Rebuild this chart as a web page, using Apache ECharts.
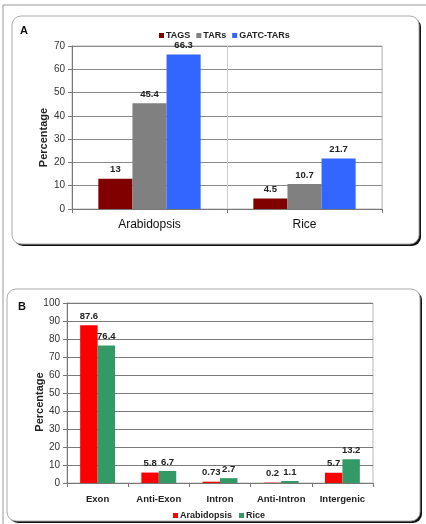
<!DOCTYPE html>
<html>
<head>
<meta charset="utf-8">
<script src="https://cdn.jsdelivr.net/npm/echarts@6/dist/echarts.min.js"></script>
<style>
  html, body { margin: 0; padding: 0; background: #fff; }
  #chart { width: 426px; height: 524px; }
</style>
</head>
<body>
<div id="chart"></div>
<script>
// panel A
const catA = ['Arabidopsis', 'Rice']
const tagsVals = [13, 4.5]
const tarsVals = [45.4, 10.7]
const gatcVals = [66.3, 21.7]
const ticksA = [0, 10, 20, 30, 40, 50, 60, 70]

// panel B
const catB = ['Exon', 'Anti-Exon', 'Intron', 'Anti-Intron', 'Intergenic']
const arabVals = [87.6, 5.8, 0.73, 0.2, 5.7]
const riceVals = [76.4, 6.7, 2.7, 1.1, 13.2]
const ticksB = [0, 10, 20, 30, 40, 50, 60, 70, 80, 90, 100]

const FONT = '"Liberation Sans", Arial, sans-serif'

var chart = echarts.init(document.getElementById('chart'), null, { renderer: 'canvas' })

function barLabel() {
  return {
    show: true,
    position: 'top',
    distance: 4,
    fontFamily: FONT,
    fontSize: 9.5,
    fontWeight: 'bold',
    color: '#222'
  }
}

chart.setOption({
  animation: false,
  textStyle: { fontFamily: FONT },
  graphic: [
    // outer frame (top + left)
    { type: 'line', shape: { x1: 3, y1: 5, x2: 426, y2: 5 }, style: { stroke: '#999', lineWidth: 1 }, z: -10 },
    { type: 'line', shape: { x1: 3, y1: 5, x2: 3, y2: 524 }, style: { stroke: '#999', lineWidth: 1 }, z: -10 },
    // panel A box (dark edge then white face)
    { type: 'rect', shape: { x: 14, y: 18, width: 407, height: 228, r: 9 }, style: { fill: '#111' }, z: -9 },
    { type: 'rect', shape: { x: 12, y: 16, width: 407, height: 228, r: 9 }, style: { fill: '#fff', stroke: '#aaa', lineWidth: 1 }, z: -8 },
    // panel B box
    { type: 'rect', shape: { x: 9, y: 291, width: 413, height: 232, r: 9 }, style: { fill: '#111' }, z: -9 },
    { type: 'rect', shape: { x: 7, y: 289, width: 413, height: 232, r: 9 }, style: { fill: '#fff', stroke: '#aaa', lineWidth: 1 }, z: -8 },
    { type: 'text', left: 20, top: 25, style: { text: 'A', font: 'bold 11px ' + FONT, fill: '#111' } },
    { type: 'text', left: 18, top: 301, style: { text: 'B', font: 'bold 11px ' + FONT, fill: '#111' } }
  ],
  legend: [
    {
      data: ['TAGS', 'TARs', 'GATC-TARs'],
      left: 154,
      top: 26,
      icon: 'rect',
      itemWidth: 5,
      itemHeight: 5,
      itemGap: 6,
      textStyle: { fontFamily: FONT, fontSize: 9, fontWeight: 'bold', color: '#222', padding: [0, 0, 0, -3] }
    },
    {
      data: ['Arabidopsis', 'Rice'],
      left: 168,
      top: 506,
      icon: 'rect',
      itemWidth: 5,
      itemHeight: 5,
      itemGap: 7,
      textStyle: { fontFamily: FONT, fontSize: 9, fontWeight: 'bold', color: '#222', padding: [0, 0, 0, -3] }
    }
  ],
  grid: [
    { left: 72, top: 46, width: 310, height: 163, show: true, borderColor: '#bbb', borderWidth: 1 },
    { left: 67, top: 303, width: 306, height: 180, show: true, borderColor: '#bbb', borderWidth: 1 }
  ],
  xAxis: [
    {
      gridIndex: 0,
      type: 'category',
      data: catA,
      axisLine: { lineStyle: { color: '#777' } },
      axisTick: { show: true, length: 4, lineStyle: { color: '#777' } },
      axisLabel: { fontFamily: FONT, fontSize: 12, color: '#111', margin: 10 },
      splitLine: { show: true, lineStyle: { color: '#ccc' } }
    },
    {
      gridIndex: 1,
      type: 'category',
      data: catB,
      axisLine: { lineStyle: { color: '#777' } },
      axisTick: { show: true, length: 4, lineStyle: { color: '#777' } },
      axisLabel: { fontFamily: FONT, fontSize: 9.5, fontWeight: 'bold', color: '#222', margin: 11, interval: 0 },
      splitLine: { show: false }
    }
  ],
  yAxis: [
    {
      gridIndex: 0,
      type: 'value',
      min: ticksA[0],
      max: ticksA[ticksA.length - 1],
      interval: 10,
      name: 'Percentage',
      nameLocation: 'middle',
      nameGap: 23,
      nameMoveOverlap: false,
      nameTextStyle: { fontFamily: FONT, fontSize: 11, fontWeight: 'bold', color: '#222', padding: [0, 20, 0, 0] },
      axisLine: { show: true, lineStyle: { color: '#777' } },
      axisTick: { show: true, length: 4, lineStyle: { color: '#777' } },
      axisLabel: { fontFamily: FONT, fontSize: 10, color: '#333', margin: 7 },
      splitLine: { lineStyle: { color: '#8a8a8a' } }
    },
    {
      gridIndex: 1,
      type: 'value',
      min: ticksB[0],
      max: ticksB[ticksB.length - 1],
      interval: 10,
      name: 'Percentage',
      nameLocation: 'middle',
      nameGap: 22,
      nameMoveOverlap: false,
      nameTextStyle: { fontFamily: FONT, fontSize: 11, fontWeight: 'bold', color: '#222', padding: [0, 18, 0, 0] },
      axisLine: { show: true, lineStyle: { color: '#777' } },
      axisTick: { show: true, length: 4, lineStyle: { color: '#777' } },
      axisLabel: { fontFamily: FONT, fontSize: 10, color: '#333', margin: 7 },
      splitLine: { lineStyle: { color: '#7a7a7a' } }
    }
  ],
  series: [
    { name: 'TAGS', type: 'bar', xAxisIndex: 0, yAxisIndex: 0, data: tagsVals, itemStyle: { color: '#800000' }, barGap: '0%', barCategoryGap: '34%', label: barLabel() },
    { name: 'TARs', type: 'bar', xAxisIndex: 0, yAxisIndex: 0, data: tarsVals, itemStyle: { color: '#808080' }, barGap: '0%', barCategoryGap: '34%', label: barLabel() },
    { name: 'GATC-TARs', type: 'bar', xAxisIndex: 0, yAxisIndex: 0, data: gatcVals, itemStyle: { color: '#3366ff' }, barGap: '0%', barCategoryGap: '34%', label: barLabel() },
    { name: 'Arabidopsis', type: 'bar', xAxisIndex: 1, yAxisIndex: 1, data: arabVals, itemStyle: { color: '#ff0000' }, barGap: '0%', barCategoryGap: '43%', label: barLabel() },
    { name: 'Rice', type: 'bar', xAxisIndex: 1, yAxisIndex: 1, data: riceVals, itemStyle: { color: '#339966' }, barGap: '0%', barCategoryGap: '43%', label: barLabel() }
  ]
})
</script>
</body>
</html>
